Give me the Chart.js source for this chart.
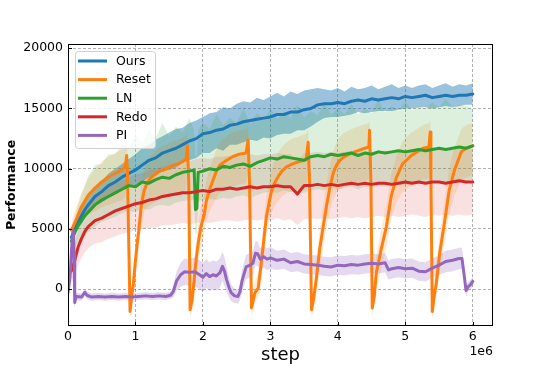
<!DOCTYPE html>
<html>
<head>
<meta charset="utf-8">
<script src="https://cdn.jsdelivr.net/npm/chart.js@4.4.0/dist/chart.umd.min.js"></script>
<style>
  html, body { margin: 0; padding: 0; background: #fff; }
  #chart { display: block; }
</style>
</head>
<body>
<canvas id="chart" width="548" height="366"></canvas>
<script>
// steps are in units of 1e6
const xTicks = [0, 1, 2, 3, 4, 5, 6];
const yTicks = [0, 5000, 10000, 15000, 20000];
const names = ['Ours', 'Reset', 'LN', 'Redo', 'PI'];
const colors = ['#1f77b4', '#ff7f0e', '#2ca02c', '#d62728', '#9467bd'];

// shared step grid for Ours and Redo
const grid = [
  0.05, 0.1, 0.15, 0.2, 0.25, 0.3, 0.4, 0.5, 0.6, 0.7,
  0.8, 0.9, 1.0, 1.1, 1.2, 1.3, 1.4, 1.5, 1.6, 1.7,
  1.8, 1.9, 2.0, 2.1, 2.2, 2.3, 2.4, 2.5, 2.6, 2.7,
  2.8, 2.9, 3.0, 3.1, 3.2, 3.3, 3.4, 3.5, 3.6, 3.7,
  3.8, 3.9, 4.0, 4.1, 4.2, 4.3, 4.4, 4.5, 4.6, 4.7,
  4.8, 4.9, 5.0, 5.1, 5.2, 5.3, 5.4, 5.5, 5.6, 5.7,
  5.8, 5.9, 6.0
];

const ours_mean = [
  4300, 5000, 5600, 6100, 6600, 7000, 7700, 8100, 8600, 8900,
  9300, 9600, 9900, 10300, 10700, 10900, 11300, 11500, 11700, 12000,
  12300, 12500, 12900, 13000, 13200, 13300, 13600, 13700, 13900, 14000,
  14100, 14200, 14300, 14500, 14500, 14700, 14700, 14900, 15000, 15300,
  15400, 15400, 15500, 15400, 15600, 15700, 15600, 15800, 15700, 15800,
  15900, 15800, 16000, 15900, 16000, 16100, 15900, 16000, 16100, 16000,
  16100, 16100, 16200
];
const ours_hi = [
  4700, 5500, 6200, 6800, 7300, 7700, 8500, 9000, 9600, 10000,
  10400, 10800, 11200, 11700, 12000, 12400, 12700, 13000, 13300, 13400,
  13800, 14000, 14300, 14600, 14700, 15100, 15000, 15400, 15600, 15500,
  15900, 15700, 16000, 16300, 16000, 16400, 16200, 16500, 16600, 16700,
  16600, 16500, 16700, 16400, 16800, 16600, 16700, 16900, 16600, 16800,
  17000, 16700, 16900, 16700, 16900, 17000, 16700, 16900, 17100, 16800,
  17000, 16900, 17100
];
const ours_lo = [
  3900, 4500, 5000, 5400, 5900, 6300, 6900, 7200, 7600, 7900,
  8200, 8400, 8700, 8900, 9300, 9400, 9800, 9900, 10100, 10500,
  10700, 10900, 11300, 11300, 11700, 11500, 12000, 12000, 12200, 12400,
  12300, 12600, 12500, 12800, 12900, 12900, 13200, 13200, 13500, 13900,
  14200, 14300, 14300, 14400, 14500, 14700, 14600, 14700, 14800, 14800,
  14800, 14900, 15000, 15000, 15100, 15100, 15000, 15100, 15200, 15100,
  15200, 15300, 15300
];

const redo_mean = [
  1500, 2400, 3500, 4200, 4800, 5200, 5700, 5900, 6200, 6500,
  6700, 6900, 7100, 7200, 7400, 7500, 7700, 7800, 7900, 8000,
  8000, 8100, 8200, 8100, 8300, 8300, 8400, 8300, 8400, 8500,
  8400, 8500, 8500, 8600, 8500, 8500, 7900, 8600, 8600, 8700,
  8600, 8700, 8600, 8700, 8800, 8700, 8800, 8700, 8800, 8800,
  8700, 8800, 8900, 8800, 8900, 8800, 8900, 8900, 8800, 8900,
  9000, 8900, 8900
];
const redo_hi = [
  2500, 3800, 5000, 5800, 6500, 7000, 7600, 8000, 8400, 8800,
  9000, 9300, 9500, 9600, 9900, 10000, 10200, 10300, 10500, 10600,
  10600, 10800, 10900, 10800, 11000, 11000, 11100, 11000, 11100, 11200,
  11100, 11200, 11200, 11300, 11200, 11200, 10600, 11300, 11300, 11400,
  11300, 11400, 11300, 11400, 11500, 11400, 11500, 11400, 11500, 11500,
  11400, 11500, 11600, 11500, 11600, 11500, 11600, 11600, 11500, 11600,
  11700, 11600, 11600
];
const redo_lo = [
  500, 1200, 2000, 2600, 3100, 3400, 3800, 3900, 4200, 4400,
  4600, 4700, 4900, 5000, 5100, 5100, 5300, 5300, 5400, 5500,
  5400, 5500, 5600, 5500, 5600, 5700, 5700, 5600, 5700, 5800,
  5700, 5800, 5700, 5900, 5700, 5800, 5300, 5800, 5900, 5800,
  5900, 5800, 5900, 6000, 5900, 6000, 5900, 6000, 6100, 6000,
  6100, 6000, 6100, 6200, 6100, 6000, 6200, 6100, 6200, 6100,
  6200, 6100, 6200
];

const ln_x = [
  0.05, 0.1, 0.15, 0.2, 0.25, 0.3, 0.4, 0.5, 0.6, 0.7,
  0.8, 0.9, 1.0, 1.1, 1.2, 1.3, 1.4, 1.5, 1.6, 1.7,
  1.8, 1.87, 1.89, 1.91, 1.93, 2.0, 2.1, 2.2, 2.3, 2.4,
  2.5, 2.6, 2.7, 2.8, 2.9, 3.0, 3.1, 3.2, 3.3, 3.4,
  3.5, 3.6, 3.7, 3.8, 3.9, 4.0, 4.1, 4.2, 4.3, 4.4,
  4.5, 4.6, 4.7, 4.8, 4.9, 5.0, 5.1, 5.2, 5.3, 5.4,
  5.5, 5.6, 5.7, 5.8, 5.9, 6.0
];
const ln_mean = [
  4000, 4700, 5300, 5700, 6100, 6400, 7000, 7400, 7700, 8000,
  8300, 8600, 8500, 8900, 8800, 9100, 9300, 9200, 9500, 9700,
  9800, 9900, 6600, 6700, 9700, 9800, 10000, 9900, 10200, 10100,
  10300, 10400, 10200, 10500, 10700, 10900, 10800, 11000, 10900, 10800,
  10700, 11000, 11100, 11000, 11200, 11100, 11200, 11300, 11100, 11300,
  11200, 11400, 11300, 11400, 11500, 11400, 11500, 11600, 11500, 11600,
  11700, 11600, 11700, 11800, 11700, 11900
];
const ln_hi = [
  5000, 6000, 7000, 7800, 8600, 9400, 10300, 10400, 11200, 11200,
  12000, 11800, 12800, 12200, 13300, 12500, 13800, 12700, 13500, 13000,
  14200, 13200, 11000, 11000, 13200, 13800, 13300, 14500, 13600, 14200,
  13800, 15000, 13700, 14600, 14000, 15000, 14100, 14700, 14200, 15300,
  14200, 14800, 14400, 15500, 14500, 15000, 14500, 15400, 14500, 15000,
  14600, 15700, 14700, 15200, 14800, 15600, 14900, 15200, 15000, 15500,
  15100, 15800, 15100, 15300, 15200, 15000
];
const ln_lo = [
  3000, 3500, 3800, 4100, 4400, 4700, 5200, 5600, 5800, 6000,
  6300, 6500, 6400, 6700, 6600, 6900, 7000, 6900, 7200, 7300,
  7400, 7400, 4500, 4600, 7300, 7400, 7500, 7400, 7600, 7500,
  7700, 7800, 7600, 7800, 8000, 8100, 8000, 8200, 8100, 8000,
  8000, 8200, 8300, 8200, 8400, 8300, 8400, 8500, 8300, 8500,
  8400, 8600, 8500, 8600, 8700, 8600, 8700, 8800, 8700, 8800,
  8900, 8800, 8900, 9000, 8900, 9100
];

const reset_x = [
  0.05, 0.1, 0.2, 0.3, 0.4, 0.5, 0.6, 0.7, 0.8, 0.85,
  0.87, 0.88, 0.92, 0.95, 0.97, 1.0, 1.03, 1.05, 1.09, 1.13,
  1.17, 1.22, 1.28, 1.35, 1.42, 1.49, 1.56, 1.63, 1.70, 1.75,
  1.77, 1.79, 1.81, 1.84, 1.86, 1.9, 1.93, 1.97, 2.02, 2.05,
  2.1, 2.15, 2.2, 2.25, 2.35, 2.44, 2.54, 2.64, 2.67, 2.69,
  2.72, 2.77, 2.82, 2.87, 2.94, 3.01, 3.06, 3.11, 3.17, 3.24,
  3.33, 3.43, 3.53, 3.56, 3.58, 3.61, 3.64, 3.68, 3.73, 3.78,
  3.83, 3.88, 3.93, 3.98, 4.03, 4.1, 4.2, 4.3, 4.4, 4.46,
  4.47, 4.49, 4.51, 4.54, 4.57, 4.64, 4.72, 4.79, 4.87, 4.96,
  5.09, 5.26, 5.35, 5.37, 5.38, 5.40, 5.43, 5.46, 5.51, 5.58,
  5.65, 5.73, 5.83, 5.9, 6.0
];
const reset_mean = [
  4900, 5500, 6850, 7800, 8400, 8900, 9300, 9600, 9900, 10200,
  11100, 10000, -1850, -300, 500, 2400, 4000, 4900, 7100, 8200,
  8800, 9200, 9500, 9800, 9900, 10100, 10300, 10400, 10600, 10800,
  11900, 9000, -1700, -900, 200, 2500, 3800, 5200, 6200, 7300,
  8300, 9050, 9800, 10300, 10700, 11000, 11200, 11300, 12400, 9000,
  -1550, -300, 100, 2400, 6000, 8000, 8800, 9300, 9800, 10150,
  10400, 10600, 10750, 12200, 9000, -1700, -800, 800, 3300, 5100,
  6850, 8400, 9600, 10300, 10700, 11000, 11300, 11500, 11700, 11800,
  13200, 9000, -1550, -600, 1350, 3260, 5200, 7700, 9300, 10400,
  11100, 11700, 11800, 13050, 9000, -1850, -500, 500, 3000, 5500,
  8200, 9900, 11400, 11700, 11900
];
const reset_hi = [
  5600, 6500, 8000, 9200, 10000, 10600, 11000, 11300, 11600, 11900,
  12300, 11200, -1000, 600, 1700, 3800, 5500, 6500, 8700, 9900,
  10600, 11000, 11400, 11700, 11900, 12100, 12300, 12400, 12600, 12800,
  13000, 10500, -800, 100, 1400, 4000, 5400, 6900, 7900, 9000,
  10000, 10800, 11600, 12200, 12700, 13000, 13200, 13300, 13500, 10500,
  -700, 700, 1300, 4000, 7700, 9800, 10700, 11300, 11800, 12200,
  12500, 12700, 12900, 13300, 10500, -800, 200, 2200, 5000, 6900,
  8700, 10200, 11500, 12200, 12700, 13000, 13300, 13500, 13700, 13800,
  14200, 10500, -700, 500, 2800, 5000, 7000, 9500, 11100, 12300,
  13000, 13600, 13800, 14000, 10500, -1000, 600, 1900, 4700, 7300,
  10000, 11800, 13300, 13600, 13800
];
const reset_lo = [
  4200, 4600, 5500, 6200, 6500, 6800, 7000, 7200, 7400, 7700,
  9000, 8500, -2500, -1000, -400, 900, 2400, 3400, 5400, 6400,
  6800, 7000, 7200, 7400, 7500, 7600, 7800, 7900, 8100, 8300,
  9500, 7500, -2400, -1700, -700, 1000, 2200, 3500, 4500, 5600,
  6500, 7000, 7600, 8000, 8300, 8500, 8700, 8800, 10000, 7500,
  -2300, -1100, -700, 900, 4300, 6200, 6900, 7300, 7700, 8000,
  8100, 8200, 8300, 10000, 7500, -2400, -1600, -400, 1600, 3300,
  5000, 6500, 7400, 8000, 8300, 8500, 8700, 8900, 9000, 9100,
  11000, 7500, -2300, -1400, 0, 1600, 3500, 5800, 7200, 8100,
  8600, 9100, 9200, 11000, 7500, -2500, -1300, -400, 1400, 3700,
  6200, 7800, 9000, 9300, 9500
];

const pi_x = [
  0.0, 0.03, 0.06, 0.08, 0.09, 0.1, 0.12, 0.2, 0.25, 0.28,
  0.35, 0.45, 0.55, 0.65, 0.75, 0.85, 0.95, 1.05, 1.15, 1.25,
  1.35, 1.45, 1.52, 1.56, 1.61, 1.67, 1.73, 1.8, 1.88, 1.95,
  2.0, 2.05, 2.1, 2.15, 2.2, 2.25, 2.29, 2.32, 2.35, 2.39,
  2.42, 2.47, 2.52, 2.55, 2.58, 2.64, 2.7, 2.74, 2.78, 2.81,
  2.85, 2.9, 2.95, 3.0, 3.1, 3.2, 3.3, 3.4, 3.5, 3.6,
  3.7, 3.8, 3.9, 4.0, 4.1, 4.2, 4.3, 4.4, 4.5, 4.6,
  4.7, 4.75, 4.8, 4.9, 5.0, 5.1, 5.2, 5.3, 5.4, 5.5,
  5.6, 5.7, 5.8, 5.84, 5.87, 5.9, 5.93, 5.97, 6.0
];
const pi_mean = [
  -300, 1000, 4000, 4900, 3000, -1100, -600, -650, -250, -500,
  -650, -600, -650, -600, -650, -600, -650, -600, -550, -600,
  -550, -600, -500, -200, 700, 1200, 1450, 1400, 1450, 1200,
  1000, 1300, 1050, 1200, 1100, 1350, 1900, 1500, 800, 100,
  -300, -550, -600, -200, 700, 1850, 2000, 2150, 3000, 2950,
  2500, 2700, 2500, 2600, 2400, 2500, 2200, 2300, 2100, 2050,
  2000, 1900, 1850, 2000, 1950, 2050, 2000, 2100, 2150, 2100,
  2200, 1600, 1700, 1800, 1700, 1750, 1500, 1450, 1750, 2000,
  2300, 2400, 2550, 2550, 1300, -100, 200, 400, 650
];
const pi_spread = [
  200, 300, 500, 500, 500, 300, 300, 300, 300, 300,
  300, 300, 300, 300, 300, 300, 300, 300, 300, 300,
  300, 300, 300, 500, 800, 1000, 1100, 1100, 1200, 1200,
  1200, 1200, 1200, 1200, 1200, 1200, 1200, 1200, 1000, 800,
  700, 600, 600, 700, 900, 1000, 1000, 1000, 1000, 1000,
  900, 900, 900, 900, 800, 800, 800, 800, 800, 800,
  800, 800, 800, 800, 800, 800, 800, 800, 800, 800,
  800, 800, 800, 800, 800, 800, 800, 800, 800, 800,
  900, 900, 900, 900, 700, 500, 400, 400, 400
];

const pts = (xs, ys) => xs.map((x, i) => ({ x: x, y: ys[i] }));

const band = (xs, lo, hi, fillColor) => [
  { data: pts(xs, lo), borderWidth: 0, pointRadius: 0, fill: false, order: 10 },
  { data: pts(xs, hi), borderWidth: 0, pointRadius: 0, fill: '-1', backgroundColor: fillColor, order: 10 }
];

const line = (xs, ys, idx) => ({
  label: names[idx],
  data: pts(xs, ys),
  borderColor: colors[idx],
  borderWidth: 3,
  pointRadius: 0,
  fill: false,
  borderJoinStyle: 'round',
  borderCapStyle: 'round',
  order: 5 - idx
});

const pi_lo = pi_mean.map((v, i) => v - pi_spread[i]);
const pi_hi = pi_mean.map((v, i) => v + pi_spread[i]);

const datasets = [].concat(
  band(ln_x, ln_lo, ln_hi, 'rgba(44,160,44,0.16)'),
  band(reset_x, reset_lo, reset_hi, 'rgba(255,127,14,0.16)'),
  band(grid, redo_lo, redo_hi, 'rgba(214,39,40,0.14)'),
  band(grid, ours_lo, ours_hi, 'rgba(31,119,180,0.45)'),
  band(pi_x, pi_lo, pi_hi, 'rgba(148,103,189,0.25)'),
  [
    line(grid, ours_mean, 0),
    line(reset_x, reset_mean, 1),
    line(ln_x, ln_mean, 2),
    line(grid, redo_mean, 3),
    line(pi_x, pi_mean, 4)
  ]
);

const tickFont = { family: 'DejaVu Sans', size: 12.5 };

// frame, inward ticks, offset text and legend
const extras = {
  id: 'extras',
  afterDraw(chart) {
    const ctx = chart.ctx;
    const a = chart.chartArea;
    const sx = chart.scales.x;
    const sy = chart.scales.y;
    ctx.save();
    ctx.strokeStyle = '#000';
    ctx.lineWidth = 1;
    ctx.strokeRect(a.left + 0.5, a.top + 0.5, a.right - a.left - 1, a.bottom - a.top - 1);
    ctx.beginPath();
    xTicks.forEach(v => {
      const px = Math.round(sx.getPixelForValue(v)) + 0.5;
      ctx.moveTo(px, a.bottom);
      ctx.lineTo(px, a.bottom - 4);
    });
    yTicks.forEach(v => {
      const py = Math.round(sy.getPixelForValue(v)) + 0.5;
      ctx.moveTo(a.left, py);
      ctx.lineTo(a.left + 4, py);
    });
    ctx.stroke();

    ctx.fillStyle = '#000';
    ctx.font = '12.5px "DejaVu Sans"';
    ctx.textAlign = 'right';
    ctx.textBaseline = 'middle';
    ctx.fillText('1e6', a.right, 352);

    // legend
    const bx = a.left + 7, by = a.top + 7, bw = 80, bh = 97;
    ctx.beginPath();
    ctx.roundRect(bx + 0.5, by + 0.5, bw, bh, 3);
    ctx.fillStyle = 'rgba(255,255,255,0.8)';
    ctx.fill();
    ctx.strokeStyle = '#d0d0d0';
    ctx.stroke();
    ctx.textAlign = 'left';
    names.forEach((n, i) => {
      const y = by + 10 + i * 18.6;
      ctx.beginPath();
      ctx.strokeStyle = colors[i];
      ctx.lineWidth = 3;
      ctx.moveTo(bx + 3, y);
      ctx.lineTo(bx + 32, y);
      ctx.stroke();
      ctx.fillStyle = '#000';
      ctx.fillText(n, bx + 41, y + 0.5);
    });
    ctx.restore();
  }
};

new Chart(document.getElementById('chart'), {
  type: 'line',
  data: { datasets: datasets },
  options: {
    responsive: false,
    animation: false,
    events: [],
    layout: { padding: { left: 0, top: 44, right: 55, bottom: 0 } },
    elements: { line: { tension: 0 } },
    plugins: {
      legend: { display: false },
      tooltip: { enabled: false }
    },
    scales: {
      x: {
        type: 'linear',
        min: 0,
        max: 6.3,
        afterBuildTicks: s => { s.ticks = xTicks.map(v => ({ value: v })); },
        afterFit: s => { s.height = 40; },
        ticks: { font: tickFont, color: '#000', padding: 3, maxRotation: 0, callback: v => String(v) },
        grid: { color: 'rgba(90,90,90,0.6)', lineWidth: 0.8, drawTicks: false },
        border: { display: false, dash: [3, 2] },
        title: { display: true, text: 'step', font: { family: 'DejaVu Sans', size: 18 }, color: '#000', padding: { top: 0, bottom: 0 } }
      },
      y: {
        min: -3050,
        max: 20350,
        afterBuildTicks: s => { s.ticks = yTicks.map(v => ({ value: v })); },
        afterFit: s => { s.width = 68; },
        ticks: { font: tickFont, color: '#000', padding: 5, callback: v => String(v) },
        grid: { color: 'rgba(90,90,90,0.6)', lineWidth: 0.8, drawTicks: false },
        border: { display: false, dash: [3, 2] },
        title: { display: true, text: 'Performance', font: { family: 'DejaVu Sans', size: 12.5, weight: 'bold' }, color: '#000', padding: { top: 4, bottom: 0 } }
      }
    }
  },
  plugins: [extras]
});
</script>
</body>
</html>
